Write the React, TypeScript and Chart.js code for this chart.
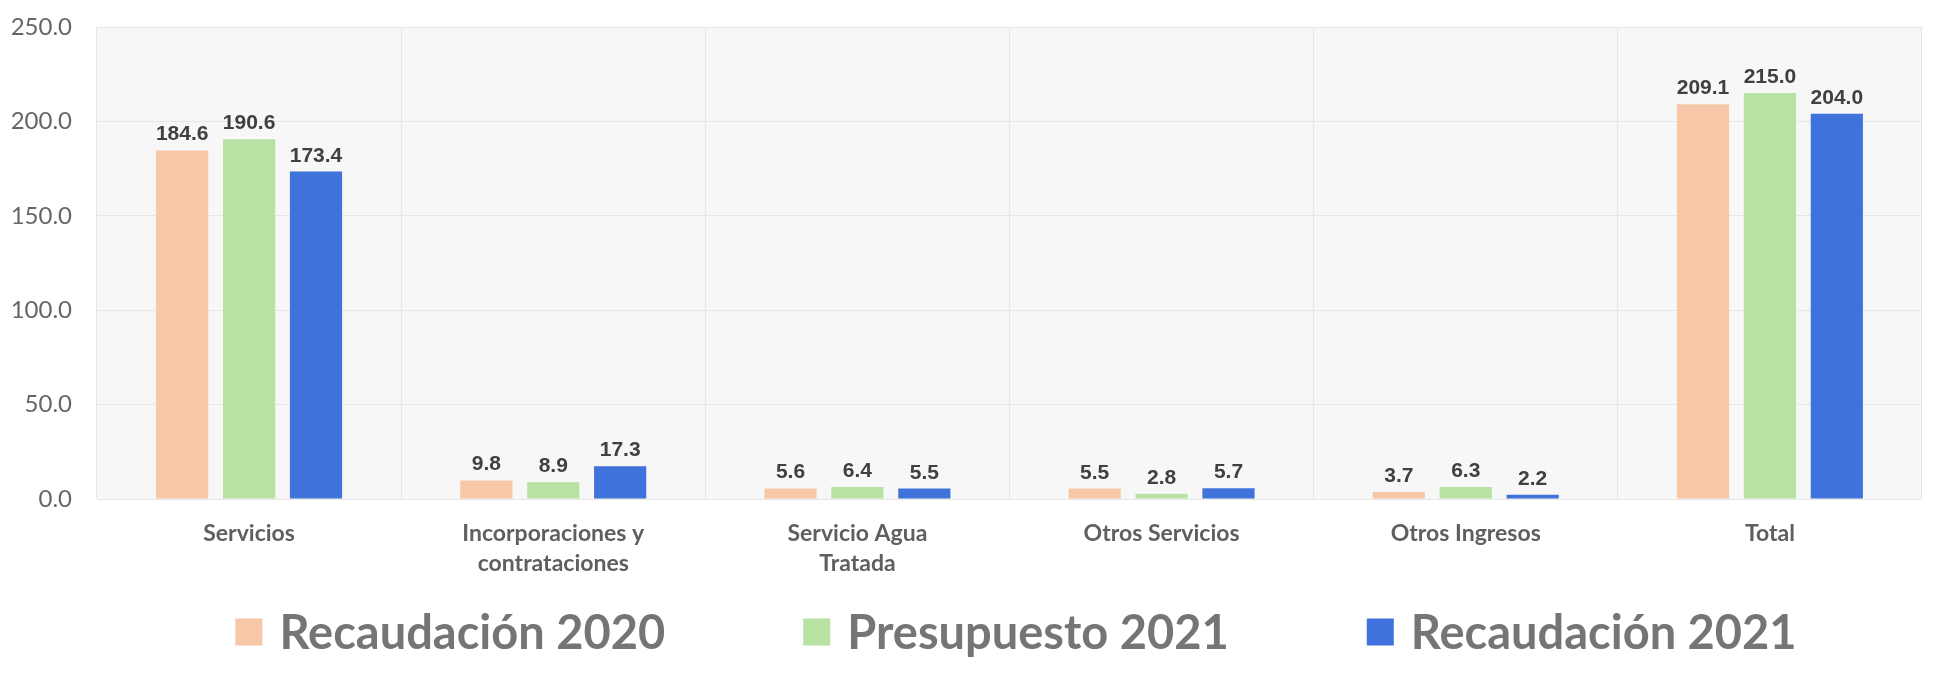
import React, { useEffect, useRef } from "react";
import { Chart, registerables } from "chart.js";

Chart.register(...registerables);

const categories: (string | string[])[] = [
  "Servicios",
  ["Incorporaciones y", "contrataciones"],
  ["Servicio Agua", "Tratada"],
  "Otros Servicios",
  "Otros Ingresos",
  "Total",
];
const recaudacion2020 = [184.6, 9.8, 5.6, 5.5, 3.7, 209.1];
const presupuesto2021 = [190.6, 8.9, 6.4, 2.8, 6.3, 215.0];
const recaudacion2021 = [173.4, 17.3, 5.5, 5.7, 2.2, 204.0];
const seriesNames = ["Recaudación 2020", "Presupuesto 2021", "Recaudación 2021"];
const seriesColors = ["#F7C8A8", "#B8E2A4", "#3F72DA"];
const yTicks = [0, 50, 100, 150, 200, 250];

const plotBg = {
  id: "plotBg",
  beforeDraw(chart: any) {
    const { ctx, chartArea } = chart;
    ctx.save();
    ctx.fillStyle = "#f7f7f7";
    ctx.fillRect(chartArea.left, chartArea.top, chartArea.right - chartArea.left, chartArea.bottom - chartArea.top);
    ctx.restore();
  },
};

const valueLabels = {
  id: "valueLabels",
  afterDatasetsDraw(chart: any) {
    const { ctx } = chart;
    ctx.save();
    ctx.font = "bold 21px 'Liberation Sans', Arial, sans-serif";
    ctx.fillStyle = "#404040";
    ctx.textAlign = "center";
    ctx.textBaseline = "alphabetic";
    chart.data.datasets.forEach((ds: any, di: number) => {
      const meta = chart.getDatasetMeta(di);
      meta.data.forEach((bar: any, i: number) => {
        const v = ds.data[i] as number;
        ctx.fillText(v.toFixed(1), bar.x, bar.y - 10);
      });
    });
    ctx.restore();
  },
};

const customLegend = {
  id: "customLegend",
  afterDraw(chart: any) {
    const { ctx } = chart;
    const boxW = 27;
    const boxH = 27;
    const textGap = 17;
    const itemGap = 138;
    const centerX = 1016;
    const centerY = 632;
    ctx.save();
    ctx.font = "bold 47px Lato, 'Open Sans', sans-serif";
    const items = chart.data.datasets.map((ds: any) => ({
      label: ds.label as string,
      color: ds.backgroundColor as string,
      w: boxW + textGap + ctx.measureText(ds.label).width,
    }));
    const total = items.reduce((s: number, it: any) => s + it.w, 0) + itemGap * (items.length - 1);
    let x = centerX - total / 2;
    ctx.textBaseline = "middle";
    ctx.textAlign = "left";
    items.forEach((it: any) => {
      ctx.fillStyle = it.color;
      ctx.fillRect(x, centerY - boxH / 2, boxW, boxH);
      ctx.fillStyle = "#757575";
      ctx.fillText(it.label, x + boxW + textGap, centerY + 2);
      x += it.w + itemGap;
    });
    ctx.restore();
  },
};

export default function App() {
  const canvasRef = useRef<HTMLCanvasElement | null>(null);

  useEffect(() => {
    if (!canvasRef.current) return;
    const chart = new Chart(canvasRef.current, {
      type: "bar",
      data: {
        labels: categories,
        datasets: [
          { label: seriesNames[0], data: recaudacion2020, backgroundColor: seriesColors[0] },
          { label: seriesNames[1], data: presupuesto2021, backgroundColor: seriesColors[1] },
          { label: seriesNames[2], data: recaudacion2021, backgroundColor: seriesColors[2] },
        ],
      },
      options: {
        animation: false,
        responsive: true,
        maintainAspectRatio: false,
        layout: { padding: { left: 12, right: 16, top: 0, bottom: 104 } },
        datasets: {
          bar: { categoryPercentage: 0.66, barPercentage: 0.78 },
        },
        plugins: {
          legend: { display: false },
          tooltip: { enabled: false },
        },
        scales: {
          x: {
            afterFit: (axis: any) => {
              axis.height = 95;
              axis.paddingLeft = 0;
              axis.paddingRight = 0;
            },
            grid: { display: true, offset: true, color: "#e6e6e6", drawTicks: false },
            border: { display: false },
            ticks: {
              color: "#5f5f5f",
              padding: 20,
              maxRotation: 0,
              autoSkip: false,
              font: { family: "Lato, 'Open Sans', sans-serif", size: 23, weight: "bold", lineHeight: 1.3 },
            },
          },
          y: {
            min: 0,
            max: 250,
            afterFit: (axis: any) => {
              axis.width = 85;
              axis.paddingTop = 27;
              axis.paddingBottom = 0;
            },
            afterBuildTicks: (axis: any) => {
              axis.ticks = yTicks.map((v) => ({ value: v }));
            },
            grid: { color: "#e6e6e6", drawTicks: false },
            border: { display: false },
            ticks: {
              color: "#666666",
              padding: 25,
              font: { family: "Lato, 'Open Sans', sans-serif", size: 24 },
              callback: (v: any) => Number(v).toFixed(1),
            },
          },
        },
      },
      plugins: [plotBg, valueLabels, customLegend],
    });
    return () => chart.destroy();
  }, []);

  return (
    <div style={{ position: "fixed", left: 0, top: 0, width: 1938, height: 698, background: "#ffffff" }}>
      <canvas ref={canvasRef} />
    </div>
  );
}
